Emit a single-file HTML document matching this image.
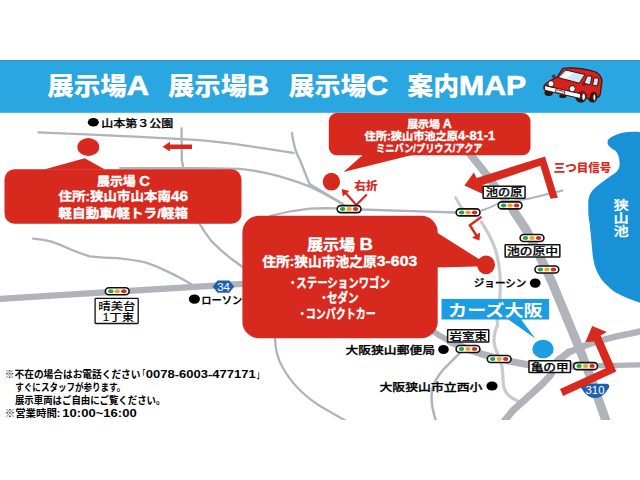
<!DOCTYPE html>
<html lang="ja"><head><meta charset="utf-8"><title>展示場A 展示場B 展示場C 案内MAP</title>
<style>
html,body{margin:0;padding:0;background:#fff;}
body{width:640px;height:480px;overflow:hidden;}
svg{display:block;font-family:"Liberation Sans","Noto Sans CJK JP",sans-serif;}
</style></head><body>
<svg width="640" height="480" viewBox="0 0 640 480">
<rect width="640" height="480" fill="#fff"/>
<defs><clipPath id="mapclip"><rect x="0" y="112" width="640" height="308"/></clipPath></defs>

<g clip-path="url(#mapclip)" fill="none" stroke-linecap="round" stroke-linejoin="round">
<path d="M38.5 132.3 L80 134.1 L140 136.8 L200 140.1 L230 143.3 L293.5 152.8" stroke="#b1b3ba" stroke-width="2.3"/>
<path d="M181.6 128.5 L181.8 160 Q183.5 170 188 185 Q192 205 199.5 223.7 Q205 233 211 240.6 Q220 250 230.5 258.2 L244 268" stroke="#b1b3ba" stroke-width="2.3"/>
<path d="M292 133 Q294 150 300 160 Q305 173 309.5 184 L343 204" stroke="#b1b3ba" stroke-width="2.3"/>
<path d="M120 168.1 L200 168.2 L240 168.9 Q252 170.2 261.9 172.2 Q273 174.5 283.8 177.6 Q297 181.5 310 186.6 Q326 194 340 202.5 L348 208" stroke="#b1b3ba" stroke-width="2.3"/>
<path d="M270 216 Q290 210.5 310 208.6 Q324 208 336 208.4 L348 209" stroke="#b1b3ba" stroke-width="2.3"/>
<path d="M361 209.5 L420 211.3 L456 212.5" stroke="#b1b3ba" stroke-width="2.3"/>
<path d="M33.2 238.7 Q42 239.5 50.8 241.4 Q60 244.5 70.3 249.2 Q80 253.5 89.8 256.3 Q103 258 117.2 258.2 Q131 259.5 144.5 262.1 Q155 265.5 164 269.9 Q174 274.5 183.6 279.7 L193.4 285.5" stroke="#b1b3ba" stroke-width="2.3"/>
<path d="M275 337 Q275 355 283 368 Q295 390 320 406 L346 421" stroke="#b1b3ba" stroke-width="2.3"/>
<path d="M459.7 353.1 L448.4 364.4 Q438 374 433 386 Q429 400 436 421" stroke="#b1b3ba" stroke-width="2.5"/>
<path d="M455.5 197.5 L461 207 L468 213.5" stroke="#c9cad0" stroke-width="2.8"/>
<path d="M481.5 210.5 Q490 208 498 203.5 Q512 200 527.5 199 L562.5 190.5" stroke="#b1b3ba" stroke-width="2.0"/>
<path d="M481.4 221.9 L488 232.8 Q493 242 495.6 250.3 Q499 262 500 275 Q501 295 498.5 312 Q496.5 320 497.7 325 Q493.5 333 494.1 342 Q495 348 496.3 350.5 Q499.5 358 501.9 365.8 Q503 375 503.3 385 Q505 396 518 401" stroke="#c9cad0" stroke-width="3.2"/>
<path d="M0 298.9 L80 293.9 L170 288.3 L243 283.9" stroke="#b1b3ba" stroke-width="6.2"/>
<path d="M465.3 148 L471.9 156.3 L484.4 171.9 L498 190 L513.9 211.3 L526.3 230" stroke="#b1b3ba" stroke-width="7.8"/>
<path d="M513.9 211.3 L526.3 230 Q540 256 551.6 281.3 L559.4 300 L568.2 321.3 L581 352.5 L589.5 374.5 L598.5 399.5 L606 421" stroke="#b1b3ba" stroke-width="9"/>
<path d="M418 322 Q430 328.5 440 335.8 L452 342.5" stroke="#b1b3ba" stroke-width="5.8"/>
<path d="M449 341 Q465 349 482.2 354.1 Q500 359.5 518.8 363 L530 365 L574 366.2 L588 366" stroke="#b1b3ba" stroke-width="7.2"/>
<path d="M580 366.1 L640 364.9" stroke="#b1b3ba" stroke-width="5.2"/>
<path d="M640 331.4 L630 333.6 Q617 335.9 606.3 339 L587.5 344.6 Q577 348 568.8 352.6 L558.8 359 L552 366" stroke="#b1b3ba" stroke-width="6.4"/>
<path d="M568.8 351.9 Q557 360.5 550.5 375.4 L541 385.2 Q527 398 512.5 410.9 L504.5 421" stroke="#b1b3ba" stroke-width="7"/>
</g>
<path d="M640 132 C633 131.3 625 131.5 618 134 C611.5 136.5 607.5 139 607.5 142 C607.5 146 611 148 615 150.5 C618.5 153.5 619.8 159 619.6 165 C619.2 171 614 174 609.2 177 L600.8 183.3 C596 187 593 189.5 591.5 191.7 C589 195 588.4 199 588.3 202 L588.3 212.5 C588.5 217 589 220 589.6 222.9 L590.6 233.3 L592.2 250 C592.8 258 593.8 262 595.2 266.9 C596.5 270.5 597.5 273 599.2 275.7 C601 279 603 281.5 606.3 284.6 C608.5 287 610.5 289 613 290.8 C616.5 293.2 620.5 295.2 624.8 297 L633.5 300.6 L640 302.8 Z" fill="#1891d7"/>
<text x="621.2" y="210.0" font-size="12.5" fill="#fff" font-weight="500" text-anchor="middle" textLength="15.2" lengthAdjust="spacingAndGlyphs" stroke="#fff" stroke-width="0.3">狭</text>
<text x="621.2" y="223.2" font-size="12.5" fill="#fff" font-weight="500" text-anchor="middle" textLength="15.2" lengthAdjust="spacingAndGlyphs" stroke="#fff" stroke-width="0.3">山</text>
<text x="621.2" y="236.4" font-size="12.5" fill="#fff" font-weight="500" text-anchor="middle" textLength="15.2" lengthAdjust="spacingAndGlyphs" stroke="#fff" stroke-width="0.3">池</text>
<rect x="0" y="60" width="640" height="52.8" fill="#2aa6e0"/>
<rect x="0" y="60" width="640" height="1" fill="#3c90ba"/>
<text x="47.2" y="94.5" font-size="24.5" fill="#fff" font-weight="900" text-anchor="start" textLength="101.8" lengthAdjust="spacingAndGlyphs">展示場<tspan font-size="28.5" stroke="#fff" stroke-width="0.7">A</tspan></text>
<text x="168" y="94.5" font-size="24.5" fill="#fff" font-weight="900" text-anchor="start" textLength="101.2" lengthAdjust="spacingAndGlyphs">展示場<tspan font-size="28.5" stroke="#fff" stroke-width="0.7">B</tspan></text>
<text x="288.6" y="94.5" font-size="24.5" fill="#fff" font-weight="900" text-anchor="start" textLength="99.5" lengthAdjust="spacingAndGlyphs">展示場<tspan font-size="28.5" stroke="#fff" stroke-width="0.7">C</tspan></text>
<text x="407.3" y="94.5" font-size="24.5" fill="#fff" font-weight="900" text-anchor="start" textLength="118.8" lengthAdjust="spacingAndGlyphs">案内<tspan font-size="28.5" stroke="#fff" stroke-width="0.7">MAP</tspan></text>
<g transform="translate(536 60) scale(0.125)" stroke-linejoin="round">
<ellipse cx="102" cy="262" rx="34" ry="26" fill="#2a1712"/>
<ellipse cx="215" cy="287" rx="30" ry="16" fill="#2a1712"/>
<ellipse cx="360" cy="297" rx="46" ry="45" fill="#2a1712"/>
<ellipse cx="453" cy="298" rx="38" ry="42" fill="#2a1712"/>
<ellipse cx="381" cy="294" rx="15" ry="28" fill="#fff" stroke="#2a1712" stroke-width="7"/>
<ellipse cx="467" cy="298" rx="12" ry="25" fill="#fff" stroke="#2a1712" stroke-width="7"/>
<path d="M215 66 Q330 52 478 96 Q522 120 528 165 L514 274 Q502 304 490 298 Q482 258 462 258 Q438 260 430 314 L404 304 Q398 254 372 252 Q344 254 338 298 L68 238 Q58 222 68 203 Q80 178 170 136 Z" fill="#d9211c" stroke="#3a140c" stroke-width="10"/>
<path d="M404 304 Q398 254 372 252 Q344 254 338 298 L300 290 L310 262 L420 270 Z" fill="#a8150f"/>
<path d="M236 80 L392 116 L346 186 L176 140 Z" fill="#cfe6f6" stroke="#3a140c" stroke-width="8"/>
<path d="M250 90 L300 102 L238 150 L198 140 Z" fill="#fff"/>
<path d="M412 126 L448 131 L434 198 L382 187 Z" fill="#cfe6f6" stroke="#3a140c" stroke-width="8"/>
<path d="M466 141 L502 147 L492 208 L452 201 Z" fill="#cfe6f6" stroke="#3a140c" stroke-width="8"/>
<path d="M66 204 L358 270 L354 308 L70 242 Z" fill="#fff" stroke="#3a140c" stroke-width="8"/>
<path d="M158 236 L230 253 L228 275 L156 258 Z" fill="#e8e8e8" stroke="#3a140c" stroke-width="6"/>
<circle cx="120" cy="190" r="25" fill="#fff" stroke="#3a140c" stroke-width="8"/>
<circle cx="290" cy="230" r="25" fill="#fff" stroke="#3a140c" stroke-width="8"/>
<ellipse cx="142" cy="130" rx="13" ry="9" fill="#d9211c" stroke="#3a140c" stroke-width="7"/>
<ellipse cx="384" cy="192" rx="14" ry="10" fill="#d9211c" stroke="#3a140c" stroke-width="7"/>
</g>
<ellipse cx="93.3" cy="122.3" rx="5.5" ry="4.3" fill="#000"/>
<text x="101.3" y="126.6" font-size="10.3" fill="#000" font-weight="500" text-anchor="start" textLength="72" lengthAdjust="spacingAndGlyphs" stroke="#000" stroke-width="0.25">山本第３公園</text>
<path d="M162.5 146.7 L170 141.8 L170 144.5 L192 144.5 L192 149 L170 149 L170 151.6 Z" fill="#d7291d"/>
<ellipse cx="88.3" cy="147" rx="11" ry="9" fill="#d7291d"/>
<path d="M44 169.5 L84.7 158.3 L105 169.5 Z" fill="#d7291d"/>
<rect x="4.5" y="169.2" width="237" height="54.6" rx="10" fill="#d7291d"/>
<text x="123.5" y="185.5" font-size="12.5" fill="#fff" font-weight="bold" text-anchor="middle" textLength="53" lengthAdjust="spacingAndGlyphs" stroke="#fff" stroke-width="0.35">展示場 <tspan font-size="14.3">C</tspan></text>
<text x="123.3" y="201.2" font-size="12.5" fill="#fff" font-weight="bold" text-anchor="middle" textLength="129.5" lengthAdjust="spacingAndGlyphs" stroke="#fff" stroke-width="0.35">住所:狭山市山本南<tspan font-size="14.3">46</tspan></text>
<text x="123.3" y="217.5" font-size="12.5" fill="#fff" font-weight="bold" text-anchor="middle" textLength="129.5" lengthAdjust="spacingAndGlyphs" stroke="#fff" stroke-width="0.35">軽自動車/軽トラ/軽箱</text>
<ellipse cx="331.4" cy="181.7" rx="8.7" ry="8.9" fill="#d7291d"/>
<path d="M362.8 155 L343.5 171.9 L412 155 Z" fill="#d7291d"/>
<rect x="328.8" y="113.1" width="201.7" height="42.2" rx="8" fill="#d7291d"/>
<text x="429.5" y="128" font-size="10.5" fill="#fff" font-weight="bold" text-anchor="middle" textLength="44.7" lengthAdjust="spacingAndGlyphs" stroke="#fff" stroke-width="0.35">展示場 <tspan font-size="12">A</tspan></text>
<text x="429.8" y="139.7" font-size="10.5" fill="#fff" font-weight="bold" text-anchor="middle" textLength="130.6" lengthAdjust="spacingAndGlyphs" stroke="#fff" stroke-width="0.35">住所:狭山市池之原<tspan font-size="12">4-81-1</tspan></text>
<text x="429.3" y="151.7" font-size="10.5" fill="#fff" font-weight="bold" text-anchor="middle" textLength="106.6" lengthAdjust="spacingAndGlyphs" stroke="#fff" stroke-width="0.35">ミニバン/プリウス/アクア</text>
<text x="354.3" y="190.3" font-size="11" fill="#d7291d" font-weight="900" text-anchor="start" textLength="23.3" lengthAdjust="spacingAndGlyphs">右折</text>
<path d="M366.8 194.4 L356.3 205 L345.3 192.5" fill="none" stroke="#d7291d" stroke-width="2.2"/>
<path d="M341.6 189 L349.4 191 L343 196.6 Z" fill="#d7291d"/>
<path d="M464.4 185.5 L473.8 172.4 L476.6 178 L545 156.4 L557.8 197.7 L550.4 198.8 L540.3 165.8 L482.8 185.1 L483.4 194.3 Z" fill="#d7291d"/>
<text x="553.8" y="172" font-size="11.5" fill="#d7291d" font-weight="900" text-anchor="start" textLength="57.5" lengthAdjust="spacingAndGlyphs">三つ目信号</text>
<path d="M481.5 216.8 L469.8 225.2 L476.8 236" fill="none" stroke="#d7291d" stroke-width="2.4"/>
<path d="M479.4 240.6 L472 237.8 L480.2 232.6 Z" fill="#d7291d"/>
<rect x="337.20" y="205.60" width="23.80" height="7.00" rx="3.50" fill="#fff" stroke="#111" stroke-width="1.6"/>
<ellipse cx="342.6" cy="209.1" rx="2.7" ry="2.0" fill="#2f9e3c"/>
<ellipse cx="349.1" cy="209.1" rx="2.7" ry="2.0" fill="#eaa51a"/>
<ellipse cx="355.6" cy="209.1" rx="2.7" ry="2.0" fill="#d6281e"/>
<rect x="456.20" y="208.90" width="23.80" height="7.00" rx="3.50" fill="#fff" stroke="#111" stroke-width="1.6"/>
<ellipse cx="461.6" cy="212.4" rx="2.7" ry="2.0" fill="#2f9e3c"/>
<ellipse cx="468.1" cy="212.4" rx="2.7" ry="2.0" fill="#eaa51a"/>
<ellipse cx="474.6" cy="212.4" rx="2.7" ry="2.0" fill="#d6281e"/>
<rect x="498.20" y="201.90" width="23.80" height="7.00" rx="3.50" fill="#fff" stroke="#111" stroke-width="1.6"/>
<ellipse cx="503.6" cy="205.4" rx="2.7" ry="2.0" fill="#2f9e3c"/>
<ellipse cx="510.1" cy="205.4" rx="2.7" ry="2.0" fill="#eaa51a"/>
<ellipse cx="516.6" cy="205.4" rx="2.7" ry="2.0" fill="#d6281e"/>
<rect x="520.10" y="234.50" width="23.80" height="7.00" rx="3.50" fill="#fff" stroke="#111" stroke-width="1.6"/>
<ellipse cx="525.5" cy="238.0" rx="2.7" ry="2.0" fill="#2f9e3c"/>
<ellipse cx="532.0" cy="238.0" rx="2.7" ry="2.0" fill="#eaa51a"/>
<ellipse cx="538.5" cy="238.0" rx="2.7" ry="2.0" fill="#d6281e"/>
<rect x="535.00" y="266.00" width="23.80" height="7.00" rx="3.50" fill="#fff" stroke="#111" stroke-width="1.6"/>
<ellipse cx="540.4" cy="269.5" rx="2.7" ry="2.0" fill="#2f9e3c"/>
<ellipse cx="546.9" cy="269.5" rx="2.7" ry="2.0" fill="#eaa51a"/>
<ellipse cx="553.4" cy="269.5" rx="2.7" ry="2.0" fill="#d6281e"/>
<rect x="105.35" y="287.70" width="23.80" height="7.00" rx="3.50" fill="#fff" stroke="#111" stroke-width="1.6"/>
<ellipse cx="110.8" cy="291.2" rx="2.7" ry="2.0" fill="#2f9e3c"/>
<ellipse cx="117.2" cy="291.2" rx="2.7" ry="2.0" fill="#eaa51a"/>
<ellipse cx="123.8" cy="291.2" rx="2.7" ry="2.0" fill="#d6281e"/>
<rect x="456.10" y="345.55" width="23.80" height="7.00" rx="3.50" fill="#fff" stroke="#111" stroke-width="1.6"/>
<ellipse cx="461.5" cy="349.1" rx="2.7" ry="2.0" fill="#2f9e3c"/>
<ellipse cx="468.0" cy="349.1" rx="2.7" ry="2.0" fill="#eaa51a"/>
<ellipse cx="474.5" cy="349.1" rx="2.7" ry="2.0" fill="#d6281e"/>
<rect x="487.30" y="355.50" width="23.80" height="7.00" rx="3.50" fill="#fff" stroke="#111" stroke-width="1.6"/>
<ellipse cx="492.7" cy="359.0" rx="2.7" ry="2.0" fill="#2f9e3c"/>
<ellipse cx="499.2" cy="359.0" rx="2.7" ry="2.0" fill="#eaa51a"/>
<ellipse cx="505.7" cy="359.0" rx="2.7" ry="2.0" fill="#d6281e"/>
<rect x="573.70" y="362.65" width="23.80" height="7.00" rx="3.50" fill="#fff" stroke="#111" stroke-width="1.6"/>
<ellipse cx="579.1" cy="366.1" rx="2.7" ry="2.0" fill="#2f9e3c"/>
<ellipse cx="585.6" cy="366.1" rx="2.7" ry="2.0" fill="#eaa51a"/>
<ellipse cx="592.1" cy="366.1" rx="2.7" ry="2.0" fill="#d6281e"/>
<rect x="483.15" y="186.15" width="41.90" height="12.00" rx="0.5" fill="#fff" stroke="#111" stroke-width="1.5"/>
<text x="485.8" y="196.2" font-size="10.2" fill="#000" font-weight="500" text-anchor="start" textLength="36.6" lengthAdjust="spacingAndGlyphs" stroke="#000" stroke-width="0.22">池の原</text>
<rect x="505.15" y="244.75" width="54.70" height="12.25" rx="0.5" fill="#fff" stroke="#111" stroke-width="1.5"/>
<text x="507.0" y="255" font-size="10.2" fill="#000" font-weight="500" text-anchor="start" textLength="51.0" lengthAdjust="spacingAndGlyphs" stroke="#000" stroke-width="0.22">池の原中</text>
<rect x="447.65" y="329.65" width="41.10" height="12.40" rx="0.5" fill="#fff" stroke="#111" stroke-width="1.5"/>
<text x="449.5" y="340" font-size="10.2" fill="#000" font-weight="500" text-anchor="start" textLength="37.4" lengthAdjust="spacingAndGlyphs" stroke="#000" stroke-width="0.22">岩室東</text>
<rect x="528.95" y="360.65" width="41.50" height="11.90" rx="0.5" fill="#fff" stroke="#111" stroke-width="1.5"/>
<text x="530.7" y="370.7" font-size="10.2" fill="#000" font-weight="500" text-anchor="start" textLength="38.0" lengthAdjust="spacingAndGlyphs" stroke="#000" stroke-width="0.22">亀の甲</text>
<rect x="95.1" y="298.4" width="43.1" height="25.1" rx="0.8" fill="#fff" stroke="#111" stroke-width="1.3"/>
<text x="116.9" y="310" font-size="10.2" fill="#000" font-weight="500" text-anchor="middle" textLength="37.2" lengthAdjust="spacingAndGlyphs">晴美台</text>
<text x="118.3" y="321" font-size="10.2" fill="#000" font-weight="500" text-anchor="middle" textLength="31.6" lengthAdjust="spacingAndGlyphs">1丁東</text>
<path d="M212.6 286.6 L217.6 280.5 L229.3 280.5 L234.2 286.6 L229.3 292.7 L217.6 292.7 Z" fill="#1f5fb0"/>
<text x="223.6" y="290.6" font-size="11" fill="#fff" font-weight="normal" text-anchor="middle" textLength="12.8" lengthAdjust="spacingAndGlyphs">34</text>
<path d="M584 383.8 L606 383.8 Q610.6 384 608.8 388 Q606 393.4 601 396.4 Q595 399.4 589 396.4 Q584 393.4 581.2 388 Q579.4 384 584 383.8 Z" fill="#1f5fb0"/>
<text x="595" y="393.7" font-size="10.3" fill="#fff" font-weight="normal" text-anchor="middle" textLength="19" lengthAdjust="spacingAndGlyphs">310</text>
<ellipse cx="194.4" cy="299.1" rx="5.6" ry="4.7" fill="#000"/>
<text x="201.2" y="304" font-size="10.5" fill="#000" font-weight="bold" text-anchor="start" textLength="41" lengthAdjust="spacingAndGlyphs">ローソン</text>
<text x="473.8" y="286.6" font-size="10.5" fill="#000" font-weight="500" text-anchor="start" textLength="52.5" lengthAdjust="spacingAndGlyphs" stroke="#000" stroke-width="0.3">ジョーシン</text>
<ellipse cx="535.2" cy="283.1" rx="5.4" ry="4.7" fill="#000"/>
<text x="345.5" y="354.3" font-size="10.5" fill="#000" font-weight="500" text-anchor="start" textLength="89.5" lengthAdjust="spacingAndGlyphs" stroke="#000" stroke-width="0.3">大阪狭山郵便局</text>
<ellipse cx="443.5" cy="349.5" rx="5.3" ry="4.5" fill="#000"/>
<text x="379.5" y="391.3" font-size="10.5" fill="#000" font-weight="500" text-anchor="start" textLength="103" lengthAdjust="spacingAndGlyphs" stroke="#000" stroke-width="0.3">大阪狭山市立西小</text>
<ellipse cx="492" cy="386" rx="5.6" ry="4.5" fill="#000"/>
<ellipse cx="486" cy="264.8" rx="9" ry="9.3" fill="#d7291d"/>
<path d="M436 232 L486 263.5 L486 266.3 L436 267.5 Z" fill="#d7291d"/>
<rect x="242.4" y="215.8" width="195.3" height="122.4" rx="16.5" fill="#d7291d"/>
<text x="340" y="249.5" font-size="14.5" fill="#fff" font-weight="bold" text-anchor="middle" textLength="66" lengthAdjust="spacingAndGlyphs" stroke="#fff" stroke-width="0.35">展示場 <tspan font-size="16.8">B</tspan></text>
<text x="339.8" y="266" font-size="13" fill="#fff" font-weight="bold" text-anchor="middle" textLength="155" lengthAdjust="spacingAndGlyphs" stroke="#fff" stroke-width="0.35">住所:狭山市池之原<tspan font-size="15">3-603</tspan></text>
<text x="287.6" y="286.9" font-size="12.6" fill="#fff" font-weight="bold" text-anchor="start" textLength="10.4" lengthAdjust="spacingAndGlyphs">・</text>
<text x="296.3" y="286.9" font-size="12.6" fill="#fff" font-weight="bold" text-anchor="start" textLength="93.6" lengthAdjust="spacingAndGlyphs" stroke="#fff" stroke-width="0.35">ステーションワゴン</text>
<text x="318.7" y="302.2" font-size="12.6" fill="#fff" font-weight="bold" text-anchor="start" textLength="10.4" lengthAdjust="spacingAndGlyphs">・</text>
<text x="327" y="302.2" font-size="12.6" fill="#fff" font-weight="bold" text-anchor="start" textLength="31.5" lengthAdjust="spacingAndGlyphs" stroke="#fff" stroke-width="0.35">セダン</text>
<text x="297.1" y="318.3" font-size="12.6" fill="#fff" font-weight="bold" text-anchor="start" textLength="10.4" lengthAdjust="spacingAndGlyphs">・</text>
<text x="305.7" y="318.3" font-size="12.6" fill="#fff" font-weight="bold" text-anchor="start" textLength="70" lengthAdjust="spacingAndGlyphs" stroke="#fff" stroke-width="0.35">コンパクトカー</text>
<ellipse cx="543" cy="349" rx="10.7" ry="9.2" fill="#1b9ce3"/>
<path d="M507.7 319 L535.3 338.5 L520.8 319 Z" fill="#1b9ce3"/>
<rect x="441.5" y="298.9" width="107.6" height="20.6" fill="#1b9ce3"/>
<text x="448" y="316" font-size="15.8" fill="#fff" font-weight="bold" text-anchor="start" textLength="94.7" lengthAdjust="spacingAndGlyphs">カーズ大阪</text>
<path d="M560 388.9 L605.6 368.3 L594.2 341.5 L585.4 341.9 L592.2 325.9 L606.9 331.9 L600.6 335.6 L616.3 371.6 L563.1 396 Z" fill="#d7291d"/>
<text x="4.8" y="378.4" font-size="10.3" fill="#000" font-weight="bold" text-anchor="start" textLength="135.7" lengthAdjust="spacingAndGlyphs">※不在の場合はお電話ください</text>
<text x="139.6" y="378.4" font-size="10.3" fill="#000" font-weight="bold" text-anchor="start" textLength="5.6" lengthAdjust="spacingAndGlyphs">「</text>
<text x="145.8" y="378.4" font-size="10.3" fill="#000" font-weight="bold" text-anchor="start" textLength="110" lengthAdjust="spacingAndGlyphs">0078-6003-477171</text>
<text x="257" y="378.4" font-size="10.3" fill="#000" font-weight="bold" text-anchor="start" textLength="5.6" lengthAdjust="spacingAndGlyphs">」</text>
<text x="15.3" y="391.4" font-size="10.3" fill="#000" font-weight="bold" text-anchor="start" textLength="110" lengthAdjust="spacingAndGlyphs">すぐにスタッフが参ります。</text>
<text x="14.9" y="404.3" font-size="10.3" fill="#000" font-weight="bold" text-anchor="start" textLength="150.5" lengthAdjust="spacingAndGlyphs">展示車両はご自由にご覧ください。</text>
<text x="4.8" y="417.2" font-size="10.3" fill="#000" font-weight="bold" text-anchor="start" textLength="55.5" lengthAdjust="spacingAndGlyphs">※営業時間:</text>
<text x="62.3" y="417.2" font-size="10.3" fill="#000" font-weight="bold" text-anchor="start" textLength="74.4" lengthAdjust="spacingAndGlyphs">10:00~16:00</text>
</svg></body></html>
